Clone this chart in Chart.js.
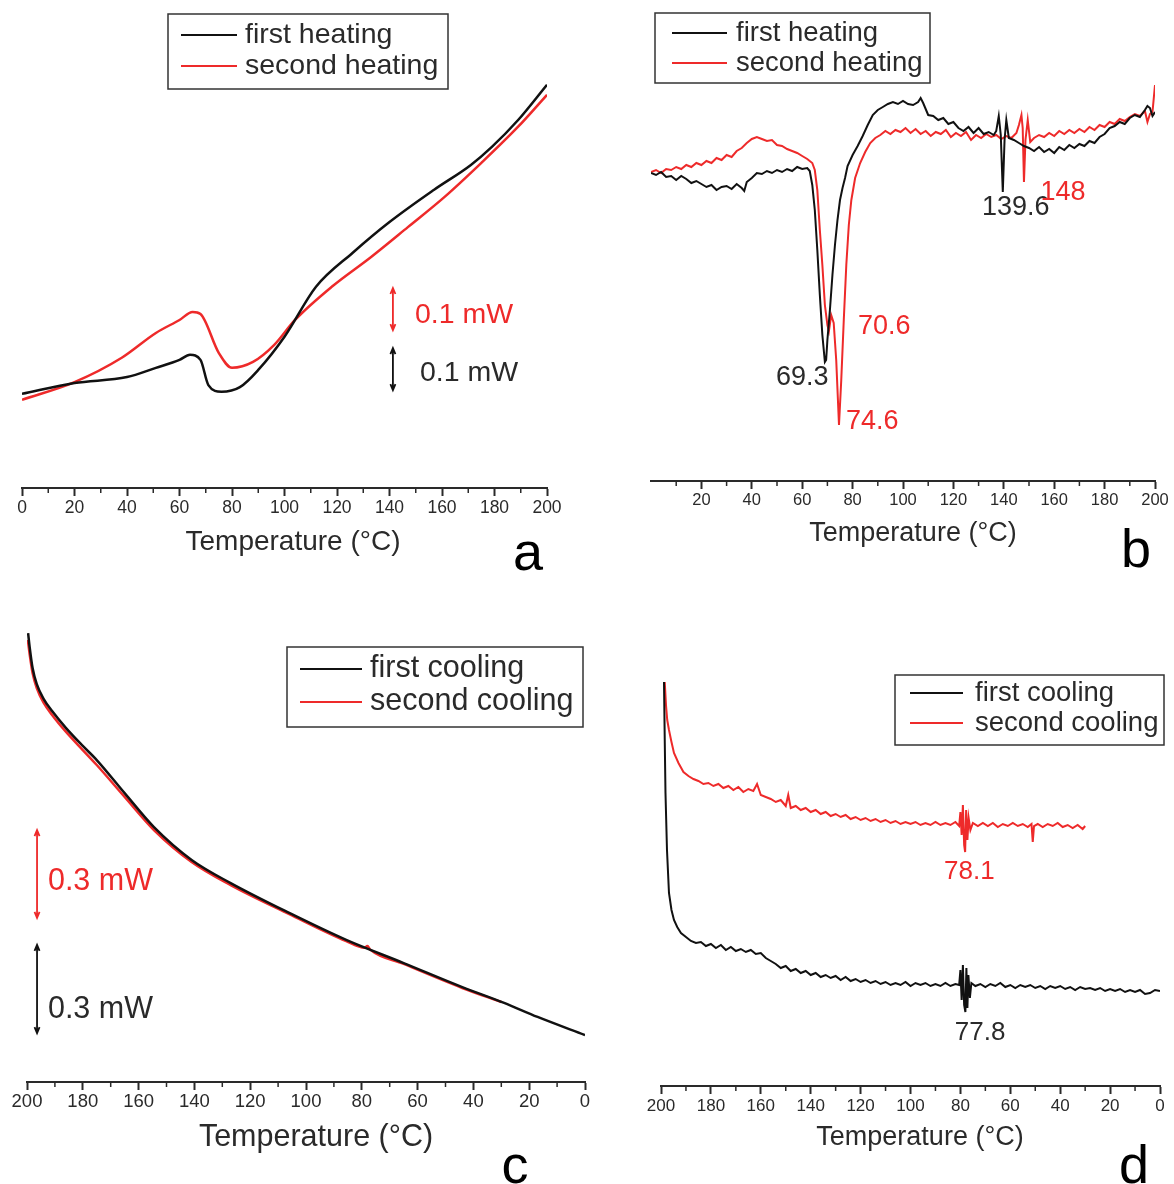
<!DOCTYPE html>
<html>
<head>
<meta charset="utf-8">
<script src="https://cdn.jsdelivr.net/npm/chart.js@4.4.0/dist/chart.umd.min.js"></script>
<style>
  body { margin: 0; background: #fff; width: 1174px; height: 1184px; position: relative; overflow: hidden; }
  canvas { position: absolute; }
</style>
</head>
<body>
<canvas id="pa" width="587" height="590" style="left:0;top:0"></canvas>
<canvas id="pb" width="587" height="590" style="left:587px;top:0"></canvas>
<canvas id="pc" width="600" height="594" style="left:0;top:590px"></canvas>
<canvas id="pd" width="574" height="594" style="left:600px;top:590px"></canvas>
<script>
// ---- data (temperature in °C, heat flow) ----

// a: heating, mW (arbitrary offset)
const tempA1 = [0, 20, 40, 51, 60, 64, 68, 71, 76, 83, 90, 100, 112, 126, 140, 157, 171, 179, 189, 200];
const flowA1 = [0.224, 0.250, 0.264, 0.286, 0.305, 0.317, 0.305, 0.245, 0.229, 0.240, 0.281, 0.360, 0.479, 0.560, 0.633, 0.710, 0.769, 0.812, 0.876, 0.960];
const tempA2 = [0, 20, 38, 51, 60, 65, 68, 75, 80, 88, 96, 104, 118, 133, 147, 161, 175, 189, 200];
const flowA2 = [0.210, 0.252, 0.310, 0.369, 0.400, 0.419, 0.414, 0.321, 0.286, 0.300, 0.340, 0.400, 0.479, 0.550, 0.621, 0.693, 0.774, 0.860, 0.936];

// b: heating, a.u.
const tempB1 = [0, 2, 4, 6, 8, 10, 12, 14, 16, 18,
  20, 22, 24, 26, 28, 30, 32, 34, 36, 37,
  38, 40, 42, 44, 46, 48, 50, 52, 54, 56,
  58, 60, 62, 63, 64, 65, 66, 67, 68, 69,
  69.5, 70, 71, 72, 73, 74, 75, 76, 77, 78,
  80, 82, 84, 86, 88, 90, 92, 94, 96, 98,
  100, 102, 104, 106, 107, 108, 110, 112, 114, 116,
  118, 120, 122, 124, 126, 128, 130, 132, 134, 136,
  137, 138, 138.8, 139.6, 140.3, 141, 142, 144, 146, 148,
  150, 152, 154, 156, 158, 160, 162, 164, 166, 168,
  170, 172, 174, 176, 178, 180, 182, 184, 186, 188,
  190, 192, 194, 196, 197, 198, 199, 200];
const flowB1 = [3.08, 3.06, 3.09, 3.04, 3.05, 3.01, 3.05, 3.02, 2.98, 3.00,
  2.97, 2.94, 2.96, 2.91, 2.94, 2.95, 2.92, 2.97, 2.93, 2.90,
  2.99, 3.03, 3.08, 3.07, 3.10, 3.08, 3.11, 3.09, 3.12, 3.10,
  3.14, 3.12, 3.13, 3.10, 2.96, 2.71, 2.31, 1.86, 1.46, 1.19,
  1.21, 1.41, 1.71, 2.06, 2.36, 2.61, 2.81, 2.93, 3.03, 3.15,
  3.26, 3.35, 3.45, 3.56, 3.66, 3.71, 3.74, 3.77, 3.79, 3.77,
  3.80, 3.77, 3.76, 3.79, 3.83, 3.78, 3.66, 3.65, 3.61, 3.63,
  3.57, 3.59, 3.53, 3.50, 3.54, 3.48, 3.53, 3.47, 3.49, 3.46,
  3.50, 3.65, 3.46, 2.89, 3.41, 3.61, 3.43, 3.41, 3.38, 3.35,
  3.33, 3.30, 3.34, 3.29, 3.32, 3.28, 3.34, 3.31, 3.36, 3.33,
  3.37, 3.35, 3.40, 3.38, 3.44, 3.47, 3.53, 3.55, 3.59, 3.57,
  3.63, 3.66, 3.64, 3.71, 3.75, 3.73, 3.65, 3.69];
const tempB2 = [0, 2, 4, 6, 8, 10, 12, 14, 16, 18,
  20, 22, 24, 26, 28, 30, 32, 34, 36, 38,
  40, 42, 44, 46, 48, 50, 52, 54, 56, 58,
  60, 62, 64, 65, 66, 67, 68, 69, 70, 70.6,
  71.5, 72.5, 73.5, 74.6, 75.5, 76.5, 77.5, 78.5, 79.5, 81,
  83, 85, 87, 89, 91, 93, 95, 97, 99, 101,
  103, 105, 107, 109, 111, 113, 115, 117, 119, 121,
  123, 125, 127, 129, 131, 133, 135, 137, 139, 141,
  143, 145, 146, 147, 147.5, 148, 148.6, 149.5, 150.5, 152,
  154, 156, 158, 160, 162, 164, 166, 168, 170, 172,
  174, 176, 178, 180, 182, 184, 186, 188, 190, 192,
  194, 196, 197, 198, 199, 200];
const flowB2 = [3.09, 3.11, 3.08, 3.12, 3.11, 3.14, 3.12, 3.16, 3.14, 3.18,
  3.16, 3.20, 3.18, 3.23, 3.21, 3.26, 3.24, 3.30, 3.33, 3.38,
  3.42, 3.44, 3.42, 3.40, 3.41, 3.36, 3.35, 3.32, 3.30, 3.28,
  3.25, 3.22, 3.18, 3.11, 2.91, 2.51, 2.16, 1.76, 1.56, 1.50,
  1.66, 1.58, 1.21, 0.56, 1.01, 1.61, 2.16, 2.56, 2.81, 3.03,
  3.18, 3.29, 3.38, 3.43, 3.46, 3.50, 3.47, 3.51, 3.49, 3.53,
  3.48, 3.52, 3.47, 3.50, 3.45, 3.49, 3.47, 3.51, 3.44, 3.48,
  3.45, 3.49, 3.41, 3.46, 3.43, 3.47, 3.44, 3.46, 3.42, 3.45,
  3.43, 3.48, 3.56, 3.66, 3.53, 2.99, 3.41, 3.61, 3.39, 3.43,
  3.46, 3.44, 3.48, 3.45, 3.50, 3.47, 3.51, 3.48, 3.52, 3.49,
  3.54, 3.51, 3.56, 3.54, 3.59, 3.57, 3.62, 3.60, 3.64, 3.67,
  3.65, 3.70, 3.59, 3.67, 3.69, 3.96];

// c: cooling, mW (arbitrary offset)
const tempC1 = [199.6, 199, 198, 196.5, 194, 191, 186, 180, 175, 165, 154.5, 141, 127, 106, 85.6, 65, 44, 29, 17, 0];
const flowC1 = [1.532, 1.481, 1.413, 1.358, 1.307, 1.266, 1.208, 1.147, 1.099, 0.986, 0.870, 0.758, 0.679, 0.577, 0.485, 0.406, 0.324, 0.270, 0.222, 0.160];
const tempC2 = [199.7, 199, 198, 196.5, 194, 191, 186, 180, 175, 165, 154.5, 141, 127, 106, 85.6, 79, 78, 77, 65, 44, 30];
const flowC2 = [1.509, 1.457, 1.396, 1.345, 1.294, 1.253, 1.195, 1.133, 1.082, 0.973, 0.860, 0.751, 0.672, 0.573, 0.481, 0.458, 0.464, 0.452, 0.403, 0.321, 0.273];

// d: cooling, a.u.
const tempD1 = [198.8, 198.5, 198.2, 197.6, 196.8, 195.8, 194.8, 193.5, 192, 190,
  188, 186, 184, 182, 180, 178, 176, 174, 172, 170,
  168, 166, 164, 162, 160, 158, 156, 154, 152, 150,
  148, 146, 144, 142, 140, 138, 136, 134, 132, 130,
  128, 126, 124, 122, 120, 118, 116, 114, 112, 110,
  108, 106, 104, 102, 100, 98, 96, 94, 92, 90,
  88, 86, 84, 82, 80.5, 80, 79.5, 79, 78.5, 78,
  77.6, 77.2, 76.8, 76.2, 75.6, 74, 72, 70, 68, 66,
  64, 62, 60, 58, 56, 54, 52, 50, 48, 46,
  44, 42, 40, 38, 36, 34, 32, 30, 28, 26,
  24, 22, 20, 18, 16, 14, 12, 10, 8, 6,
  4, 2, 0];
const flowD1 = [4.04, 3.46, 2.93, 2.36, 1.93, 1.76, 1.66, 1.59, 1.53, 1.49,
  1.45, 1.43, 1.44, 1.40, 1.42, 1.38, 1.41, 1.36, 1.39, 1.35,
  1.37, 1.34, 1.36, 1.32, 1.33, 1.28, 1.25, 1.22, 1.18, 1.20,
  1.15, 1.17, 1.13, 1.15, 1.11, 1.13, 1.09, 1.11, 1.08, 1.10,
  1.06, 1.09, 1.05, 1.07, 1.04, 1.06, 1.03, 1.05, 1.02, 1.04,
  1.01, 1.03, 1.01, 1.04, 1.00, 1.03, 1.01, 1.03, 1.00, 1.02,
  1.00, 1.03, 1.00, 1.02, 1.01, 1.16, 0.86, 1.21, 0.81, 0.74,
  1.18, 0.78, 1.11, 0.88, 1.03, 1.00, 1.02, 0.99, 1.02, 1.00,
  1.03, 0.99, 1.01, 0.98, 1.01, 0.99, 1.01, 0.98, 1.00, 0.97,
  1.00, 0.98, 1.00, 0.97, 0.99, 0.96, 0.99, 0.97, 0.98, 0.96,
  0.98, 0.95, 0.97, 0.95, 0.97, 0.94, 0.96, 0.94, 0.96, 0.92,
  0.93, 0.96, 0.95];
const tempD2 = [198.5, 198, 197.5, 196.8, 195.8, 194.8, 193, 191, 189, 187,
  185, 183, 181, 179, 177, 175, 173, 171, 169, 167,
  165, 163, 161.5, 160, 158, 156, 154, 152, 150, 149,
  148, 146, 144, 142, 140, 138, 136, 134, 132, 130,
  128, 126, 124, 122, 120, 118, 116, 114, 112, 110,
  108, 106, 104, 102, 100, 98, 96, 94, 92, 90,
  88, 86, 84, 82, 80.5, 80, 79.5, 79, 78.5, 78.1,
  77.7, 77.2, 76.7, 76, 75, 73, 71, 69, 67, 65,
  63, 61, 59, 57, 55, 53, 51.5, 51, 50.5, 49,
  47, 45, 43, 41, 39, 37, 35, 33, 31, 30];
const flowD2 = [4.04, 3.81, 3.66, 3.56, 3.44, 3.33, 3.23, 3.14, 3.10, 3.07,
  3.05, 3.02, 3.03, 3.00, 3.02, 2.98, 3.00, 2.96, 2.99, 2.94,
  2.97, 2.95, 3.02, 2.91, 2.89, 2.87, 2.84, 2.86, 2.80, 2.91,
  2.78, 2.80, 2.76, 2.78, 2.74, 2.76, 2.72, 2.74, 2.70, 2.72,
  2.69, 2.71, 2.67, 2.69, 2.66, 2.68, 2.65, 2.67, 2.64, 2.66,
  2.63, 2.65, 2.62, 2.64, 2.62, 2.64, 2.61, 2.63, 2.61, 2.64,
  2.61, 2.63, 2.61, 2.64, 2.60, 2.74, 2.51, 2.81, 2.41, 2.34,
  2.76, 2.46, 2.68, 2.56, 2.63, 2.60, 2.63, 2.60, 2.63, 2.59,
  2.62, 2.60, 2.63, 2.60, 2.62, 2.59, 2.62, 2.44, 2.60, 2.62,
  2.59, 2.62, 2.60, 2.63, 2.59, 2.61, 2.58, 2.61, 2.57, 2.60];

const FONT = "'Liberation Sans', Arial, Helvetica, sans-serif";
const RED = '#ee2a2a';
const BLACK = '#111';
const INK = '#2a2a2a';

Chart.defaults.font.family = FONT;

// per-panel decorations: axis title, panel letter, boxed legend, labels, scale bars
const EXTRAS = {
  pa: {
    title: { x: 293, y: 542, size: 28 },
    letter: { text: 'a', x: 528, y: 570 },
    legend: { x: 168, y: 14, w: 280, h: 75, x0: 181, x1: 237, tx: 245, size: 28.5,
      rows: [{ y: 35, color: BLACK, text: 'first heating' }, { y: 66, color: RED, text: 'second heating' }] },
    bars: [{ t: 141.3, v0: 0.376, v1: 0.476, color: RED }, { t: 141.3, v0: 0.233, v1: 0.333, color: BLACK }],
    notes: [{ t: 149.7, v: 0.412, text: '0.1 mW', color: RED, size: 28.5, align: 'left' },
            { t: 151.6, v: 0.274, text: '0.1 mW', color: INK, size: 28.5, align: 'left' }]
  },
  pb: {
    title: { x: 326, y: 534, size: 27 },
    letter: { text: 'b', x: 549, y: 567 },
    legend: { x: 68, y: 13, w: 275, h: 70, x0: 85, x1: 140, tx: 149, size: 27.5,
      rows: [{ y: 33, color: BLACK, text: 'first heating' }, { y: 63, color: RED, text: 'second heating' }] },
    bars: [],
    notes: [{ t: 49.6, v: 1.03, text: '69.3', color: INK, size: 27, align: 'left' },
            { t: 82.1, v: 1.54, text: '70.6', color: RED, size: 27, align: 'left' },
            { t: 77.4, v: 0.59, text: '74.6', color: RED, size: 27, align: 'left' },
            { t: 131.3, v: 2.73, text: '139.6', color: INK, size: 27, align: 'left' },
            { t: 154.6, v: 2.88, text: '148', color: RED, size: 27, align: 'left' }]
  },
  pc: {
    title: { x: 316, y: 548, size: 30.5 },
    letter: { text: 'c', x: 515, y: 593 },
    legend: { x: 287, y: 57, w: 296, h: 80, x0: 300, x1: 362, tx: 370, size: 30.5,
      rows: [{ y: 79, color: BLACK, text: 'first cooling' }, { y: 112, color: RED, text: 'second cooling' }] },
    bars: [{ t: 196.4, v0: 0.560, v1: 0.860, color: RED }, { t: 196.4, v0: 0.167, v1: 0.468, color: BLACK }],
    notes: [{ t: 192.5, v: 0.683, text: '0.3 mW', color: RED, size: 30.5, align: 'left' },
            { t: 192.5, v: 0.246, text: '0.3 mW', color: INK, size: 30.5, align: 'left' }]
  },
  pd: {
    title: { x: 320, y: 548, size: 27 },
    letter: { text: 'd', x: 534, y: 593 },
    legend: { x: 295, y: 85, w: 269, h: 70, x0: 310, x1: 363, tx: 375, size: 27.5,
      rows: [{ y: 103, color: BLACK, text: 'first cooling' }, { y: 133, color: RED, text: 'second cooling' }] },
    bars: [],
    notes: [{ t: 76.4, v: 2.14, text: '78.1', color: RED, size: 26, align: 'center' },
            { t: 72.1, v: 0.53, text: '77.8', color: INK, size: 26, align: 'center' }]
  }
};

const extrasPlugin = {
  id: 'extras',
  afterDraw(chart) {
    const ex = EXTRAS[chart.canvas.id];
    if (!ex) return;
    const ctx = chart.ctx;
    const xs = chart.scales.x;
    const ys = chart.scales.y;
    const area = chart.chartArea;
    ctx.save();

    // minor ticks every 10 degrees
    ctx.strokeStyle = INK;
    ctx.lineWidth = 1.5;
    for (let t = 10; t < 200; t += 20) {
      const px = xs.getPixelForValue(t);
      ctx.beginPath();
      ctx.moveTo(px, area.bottom);
      ctx.lineTo(px, area.bottom + 5);
      ctx.stroke();
    }

    ctx.textBaseline = 'middle';

    // axis title
    ctx.fillStyle = INK;
    ctx.textAlign = 'center';
    ctx.font = ex.title.size + 'px ' + FONT;
    ctx.fillText('Temperature (°C)', ex.title.x, ex.title.y);

    // panel letter
    ctx.fillStyle = '#000';
    ctx.textBaseline = 'alphabetic';
    ctx.font = '54px ' + FONT;
    ctx.fillText(ex.letter.text, ex.letter.x, ex.letter.y);
    ctx.textBaseline = 'middle';

    // boxed legend
    const lg = ex.legend;
    ctx.fillStyle = '#fff';
    ctx.fillRect(lg.x, lg.y, lg.w, lg.h);
    ctx.strokeStyle = '#333';
    ctx.lineWidth = 1.5;
    ctx.strokeRect(lg.x, lg.y, lg.w, lg.h);
    ctx.font = lg.size + 'px ' + FONT;
    ctx.textAlign = 'left';
    lg.rows.forEach(r => {
      ctx.strokeStyle = r.color;
      ctx.lineWidth = 2;
      ctx.beginPath();
      ctx.moveTo(lg.x0, r.y);
      ctx.lineTo(lg.x1, r.y);
      ctx.stroke();
      ctx.fillStyle = INK;
      ctx.fillText(r.text, lg.tx, r.y);
    });

    // double-arrow scale bars
    ex.bars.forEach(b => {
      const px = xs.getPixelForValue(b.t);
      const top = ys.getPixelForValue(b.v1);
      const bot = ys.getPixelForValue(b.v0);
      ctx.strokeStyle = b.color;
      ctx.lineWidth = 1.8;
      ctx.beginPath();
      ctx.moveTo(px, top);
      ctx.lineTo(px, bot);
      ctx.moveTo(px - 2.5, top + 6);
      ctx.lineTo(px, top);
      ctx.lineTo(px + 2.5, top + 6);
      ctx.moveTo(px - 2.5, bot - 6);
      ctx.lineTo(px, bot);
      ctx.lineTo(px + 2.5, bot - 6);
      ctx.stroke();
    });

    // peak labels
    ex.notes.forEach(n => {
      ctx.fillStyle = n.color;
      ctx.textAlign = n.align;
      ctx.font = n.size + 'px ' + FONT;
      ctx.fillText(n.text, xs.getPixelForValue(n.t), ys.getPixelForValue(n.v));
    });

    ctx.restore();
  }
};

function xScale(cfg) {
  const shown = v => v % 20 === 0 && !(cfg.skipZero && v === 0);
  return {
    type: 'linear',
    min: 0,
    max: 200,
    reverse: !!cfg.reverse,
    afterFit: s => { s.height = 40; },
    border: { display: true, color: INK, width: 2 },
    grid: {
      drawOnChartArea: false,
      drawTicks: true,
      tickLength: 8,
      tickWidth: 2,
      tickColor: c => (c.tick && shown(c.tick.value)) ? INK : 'rgba(0,0,0,0)'
    },
    ticks: {
      stepSize: 10,
      autoSkip: false,
      maxRotation: 0,
      padding: cfg.tickPad,
      color: INK,
      font: { size: cfg.tickSize },
      callback: v => shown(v) ? String(v) : ''
    },
    title: { display: false }
  };
}

function makePanel(id, cfg) {
  return new Chart(document.getElementById(id), {
    type: 'line',
    data: {
      datasets: cfg.series.map(s => ({
        data: s.t.map((t, i) => ({ x: t, y: s.v[i] })),
        borderColor: s.color,
        borderWidth: cfg.lineWidth,
        pointRadius: 0,
        fill: false,
        tension: 0,
        cubicInterpolationMode: cfg.smooth ? 'monotone' : 'default'
      }))
    },
    options: {
      responsive: false,
      animation: false,
      events: [],
      layout: { padding: cfg.padding },
      scales: {
        x: xScale(cfg),
        y: { display: false, min: 0, max: cfg.ymax }
      },
      plugins: { legend: { display: false }, tooltip: { enabled: false } }
    },
    plugins: [extrasPlugin]
  });
}

makePanel('pa', {
  series: [{ t: tempA1, v: flowA1, color: BLACK }, { t: tempA2, v: flowA2, color: RED }],
  lineWidth: 2.5, smooth: true, ymax: 1.114, tickSize: 17.5, tickPad: 2,
  padding: { left: 22, right: 40, top: 20, bottom: 62 }
});

makePanel('pb', {
  series: [{ t: tempB1, v: flowB1, color: BLACK }, { t: tempB2, v: flowB2, color: RED }],
  lineWidth: 2, smooth: false, skipZero: true, ymax: 4.61, tickSize: 16.5, tickPad: 2,
  padding: { left: 64, right: 19, top: 20, bottom: 69 }
});

makePanel('pc', {
  series: [{ t: tempC1, v: flowC1, color: BLACK }, { t: tempC2, v: flowC2, color: RED }],
  lineWidth: 2.5, smooth: true, reverse: true, ymax: 1.577, tickSize: 18.5, tickPad: 1,
  padding: { left: 27, right: 15, top: 30, bottom: 62 }
});

makePanel('pd', {
  series: [{ t: tempD1, v: flowD1, color: BLACK }, { t: tempD2, v: flowD2, color: RED }],
  lineWidth: 2, smooth: false, reverse: true, ymax: 4.26, tickSize: 17, tickPad: 2,
  padding: { left: 61, right: 14, top: 70, bottom: 58 }
});
</script>
</body>
</html>
